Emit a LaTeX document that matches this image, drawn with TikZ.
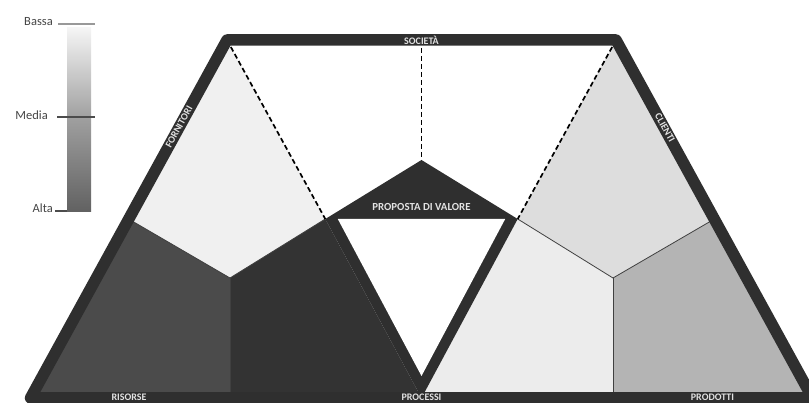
\documentclass[tikz,border=0pt]{standalone}
\usepackage{fontspec}
\setmainfont{Carlito}
\definecolor{dk}{HTML}{2F2F2F}
\definecolor{ltop}{HTML}{F0F0F0}
\definecolor{lbl}{HTML}{4B4B4B}
\definecolor{lbr}{HTML}{333333}
\definecolor{rtop}{HTML}{DDDDDD}
\definecolor{rbl}{HTML}{ECECEC}
\definecolor{rbr}{HTML}{B4B4B4}
\definecolor{labtxt}{HTML}{E2E2E2}
\definecolor{legtxt}{HTML}{444444}
\begin{document}
\begin{tikzpicture}[x=1pt,y=-1pt,
  lab/.style={text=labtxt, font=\bfseries\fontsize{10}{10}\selectfont, inner sep=0pt},
  legend/.style={text=legtxt, font=\fontsize{12.5}{13}\selectfont, inner sep=0pt, anchor=east},
  yline/.style={draw=black!75, line width=0.8pt},
  dash line/.style={draw=black, line width=1.7pt, dash pattern=on 5pt off 3pt},
  tickline/.style={line width=1.2pt}]
\useasboundingbox (0,0) rectangle (809,403);
% key points
\coordinate (TL) at (227,40);
\coordinate (TR) at (616,40);
\coordinate (BR) at (812.5,398);
\coordinate (BL) at (30.5,398);
\coordinate (BC) at (421.5,398);
\coordinate (TC) at (421.5,40);
\coordinate (AP) at (421.5,160);
\coordinate (PL) at (325.3,219);
\coordinate (PR) at (517.7,219);
\coordinate (L1) at (128.6,219);
\coordinate (R1) at (714.4,219);
\coordinate (JL) at (230,278);
\coordinate (JR) at (613,278);
\coordinate (BL2) at (230,398);
\coordinate (BR2) at (613,398);
\coordinate (VL) at (337.8,219);
\coordinate (VR) at (505.2,219);
\coordinate (VB) at (421.5,376);
% left triangle regions
\fill[ltop] (TL) -- (PL) -- (JL) -- (L1) -- cycle;
\fill[lbl] (L1) -- (JL) -- (BL2) -- (BL) -- cycle;
\fill[lbr] (JL) -- (PL) -- (BC) -- (BL2) -- cycle;
% right triangle regions
\fill[rtop] (TR) -- (R1) -- (JR) -- (PR) -- cycle;
\fill[rbl] (PR) -- (JR) -- (BR2) -- (BC) -- cycle;
\fill[rbr] (JR) -- (R1) -- (BR) -- (BR2) -- cycle;
% proposta di valore and V
\fill[dk] (AP) -- (PR) -- (PL) -- cycle;
\fill[dk] (PL) -- (PR) -- (BC) -- cycle;
\fill[white] (VL) -- (VR) -- (VB) -- cycle;
% Y lines
\draw[yline] (L1) -- (JL) -- (PL);
\draw[yline] (JL) -- (BL2);
\draw[yline] (R1) -- (JR) -- (PR);
\draw[yline] (JR) -- (BR2);
% dashed lines
\draw[dash line] (TL) -- (PL);
\draw[dash line] (TR) -- (PR);
\draw[dash line] (TC) -- (AP);
% border
\draw[dk, line width=11.5pt, line join=round] (TL) -- (TR) -- (BR) -- (BL) -- cycle;
% labels
\node[lab] (soc) at (421.5,40.5) {SOCIETÀ};
\node[lab, font=\bfseries\fontsize{10.8}{11}\selectfont] (pdv) at (421.5,207) {PROPOSTA DI VALORE};
\node[lab] (ris) at (129,397.5) {RISORSE};
\node[lab] (pro) at (421.5,397.5) {PROCESSI};
\node[lab] (prd) at (712.5,397.5) {PRODOTTI};
\node[lab, rotate=61.2] (for) at (179,127) {FORNITORI};
\node[lab, rotate=-61.2] (cli) at (665,128) {CLIENTI};
% legend
\shade[top color=white!96!black, bottom color=black!62, middle color=black!38] (67,28) rectangle (91,212);
\coordinate (b1) at (58,24); \coordinate (b2) at (95,24);
\coordinate (m1) at (57,117); \coordinate (m2) at (95,117);
\coordinate (a1) at (55,211); \coordinate (a2) at (67,211);
\draw[tickline, black!40] (b1) -- (b2);
\draw[tickline, black!70] (m1) -- (m2);
\draw[tickline, black!70] (a1) -- (a2);
\node[legend] (bassa) at (53,21.5) {Bassa};
\node[legend] (media) at (48,115) {Media};
\node[legend] (alta) at (53,208) {Alta};
\end{tikzpicture}
\end{document}
